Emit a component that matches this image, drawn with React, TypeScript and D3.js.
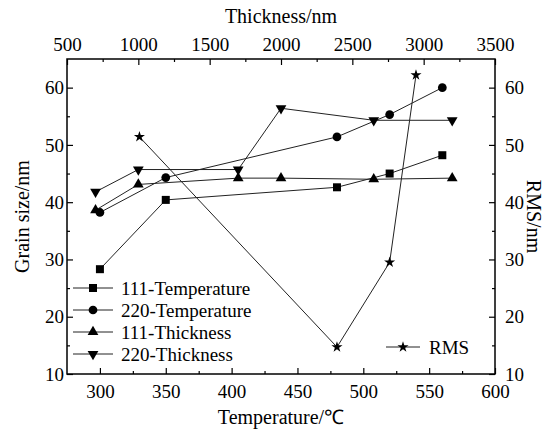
import { useEffect, useRef } from 'react'
import * as d3 from 'd3'

// values
const tempX = [300, 350, 480, 520, 560]
const grain111Temp = [28.3, 40.4, 42.6, 45.0, 48.2]
const grain220Temp = [38.2, 44.3, 51.4, 55.3, 60.0]

const thickX = [700, 1000, 1700, 2000, 2650, 3200]
const grain111Thick = [38.6, 43.1, 44.2, 44.2, 44.0, 44.2]
const grain220Thick = [41.8, 45.7, 45.7, 56.4, 54.3, 54.3]

const rmsX = [330, 480, 520, 540]
const rmsValues = [51.4, 14.7, 29.5, 62.2]

const tempTicks = [300, 350, 400, 450, 500, 550, 600]
const tempMinor = [325, 375, 425, 475, 525, 575]
const thickTicks = [500, 1000, 1500, 2000, 2500, 3000, 3500]
const thickMinor = [750, 1250, 1750, 2250, 2750, 3250]
const yTicks = [10, 20, 30, 40, 50, 60]
const yMinor = [15, 25, 35, 45, 55, 65]

const legendLabels = ['111-Temperature', '220-Temperature', '111-Thickness', '220-Thickness']

const W = 554
const H = 432
const FONT = '"Liberation Serif", "Times New Roman", serif'

export default function App() {
  const svgRef = useRef(null)

  useEffect(() => {
    const svg = d3.select(svgRef.current)
    svg.selectAll('*').remove()

    const left = 67, right = 495, top = 59, bottom = 374

    const xT = d3.scaleLinear().domain([275, 600]).range([left, right])
    const xTh = d3.scaleLinear().domain([500, 3500]).range([left, right])
    const yL = d3.scaleLinear().domain([10, 65]).range([bottom, top])
    const yR = d3.scaleLinear().domain([10, 65]).range([bottom, top])

    const styleAxis = (g) => {
      g.select('.domain').remove()
      g.selectAll('line').attr('stroke', '#000').attr('stroke-width', 1.2)
      g.selectAll('text')
        .attr('font-family', FONT)
        .attr('font-size', 19)
        .attr('fill', '#000')
    }

    // bottom axis
    svg.append('g')
      .attr('transform', `translate(0,${bottom})`)
      .call(d3.axisBottom(xT).tickValues(tempTicks).tickSize(-6).tickPadding(11).tickFormat(d3.format('d')))
      .call(styleAxis)
    svg.append('g')
      .attr('transform', `translate(0,${bottom})`)
      .call(d3.axisBottom(xT).tickValues(tempMinor).tickSize(-3).tickFormat(() => ''))
      .call(styleAxis)

    // top axis
    svg.append('g')
      .attr('transform', `translate(0,${top})`)
      .call(d3.axisTop(xTh).tickValues(thickTicks).tickSize(-6).tickPadding(8).tickFormat(d3.format('d')))
      .call(styleAxis)
    svg.append('g')
      .attr('transform', `translate(0,${top})`)
      .call(d3.axisTop(xTh).tickValues(thickMinor).tickSize(-3).tickFormat(() => ''))
      .call(styleAxis)

    // left axis
    svg.append('g')
      .attr('transform', `translate(${left},0)`)
      .call(d3.axisLeft(yL).tickValues(yTicks).tickSize(-6).tickPadding(3))
      .call(styleAxis)
    svg.append('g')
      .attr('transform', `translate(${left},0)`)
      .call(d3.axisLeft(yL).tickValues(yMinor.filter(v => v < 65)).tickSize(-3).tickFormat(() => ''))
      .call(styleAxis)

    // right axis
    svg.append('g')
      .attr('transform', `translate(${right},0)`)
      .call(d3.axisRight(yR).tickValues(yTicks).tickSize(-6).tickPadding(10))
      .call(styleAxis)
    svg.append('g')
      .attr('transform', `translate(${right},0)`)
      .call(d3.axisRight(yR).tickValues(yMinor.filter(v => v < 65)).tickSize(-3).tickFormat(() => ''))
      .call(styleAxis)

    // frame
    svg.append('rect')
      .attr('x', left).attr('y', top)
      .attr('width', right - left).attr('height', bottom - top)
      .attr('fill', 'none').attr('stroke', '#000').attr('stroke-width', 1.5)

    // axis titles
    const title = (text, x, y, rot) => {
      svg.append('text')
        .attr('transform', `translate(${x},${y}) rotate(${rot})`)
        .attr('text-anchor', 'middle')
        .attr('font-family', FONT)
        .attr('font-size', 20)
        .attr('fill', '#000')
        .text(text)
    }
    title('Temperature/℃', (left + right) / 2, 424, 0)
    title('Thickness/nm', (left + right) / 2, 23, 0)
    title('Grain size/nm', 29, (top + bottom) / 2, -90)
    title('RMS/nm', 527, (top + bottom) / 2, 90)

    const sym = {
      square: d3.symbol().type(d3.symbolSquare).size(64),
      circle: d3.symbol().type(d3.symbolCircle).size(60),
      triangle: d3.symbol().type(d3.symbolTriangle).size(50),
      star: d3.symbol().type(d3.symbolStar).size(38),
    }

    const series = [
      { xs: tempX, ys: grain111Temp, xs_scale: xT, y: yL, shape: 'square', rot: 0 },
      { xs: tempX, ys: grain220Temp, xs_scale: xT, y: yL, shape: 'circle', rot: 0 },
      { xs: thickX, ys: grain111Thick, xs_scale: xTh, y: yL, shape: 'triangle', rot: 0 },
      { xs: thickX, ys: grain220Thick, xs_scale: xTh, y: yL, shape: 'triangle', rot: 180 },
      { xs: rmsX, ys: rmsValues, xs_scale: xT, y: yR, shape: 'star', rot: 0 },
    ]

    series.forEach(s => {
      const pts = s.xs.map((v, i) => [s.xs_scale(v), s.y(s.ys[i])])
      svg.append('path')
        .attr('d', d3.line()(pts))
        .attr('fill', 'none')
        .attr('stroke', '#222')
        .attr('stroke-width', 1)
      svg.append('g')
        .selectAll('path')
        .data(pts)
        .enter()
        .append('path')
        .attr('transform', d => `translate(${d[0]},${d[1]}) rotate(${s.rot})`)
        .attr('d', sym[s.shape]())
        .attr('fill', '#000')
    })

    // legend (left)
    const rows = [288, 310, 332, 354]
    series.slice(0, 4).forEach((s, i) => {
      const g = svg.append('g').attr('transform', `translate(0,${rows[i]})`)
      g.append('line')
        .attr('x1', 73).attr('x2', 113)
        .attr('stroke', '#222').attr('stroke-width', 1)
      g.append('path')
        .attr('transform', `translate(93,0) rotate(${s.rot})`)
        .attr('d', sym[s.shape]())
        .attr('fill', '#000')
      g.append('text')
        .attr('x', 121).attr('y', 7)
        .attr('font-family', FONT).attr('font-size', 19)
        .attr('fill', '#000')
        .text(legendLabels[i])
    })

    // legend (RMS)
    const rg = svg.append('g').attr('transform', 'translate(0,347)')
    rg.append('line').attr('x1', 386).attr('x2', 420).attr('stroke', '#222').attr('stroke-width', 1)
    rg.append('path').attr('transform', 'translate(403,0)').attr('d', sym.star()).attr('fill', '#000')
    rg.append('text')
      .attr('x', 429).attr('y', 7)
      .attr('font-family', FONT).attr('font-size', 19)
      .attr('fill', '#000')
      .text('RMS')
  }, [])

  return (
    <div style={{ position: 'absolute', left: 0, top: 0 }}>
      <svg ref={svgRef} width={W} height={H} style={{ background: '#fff', display: 'block' }} />
    </div>
  )
}
